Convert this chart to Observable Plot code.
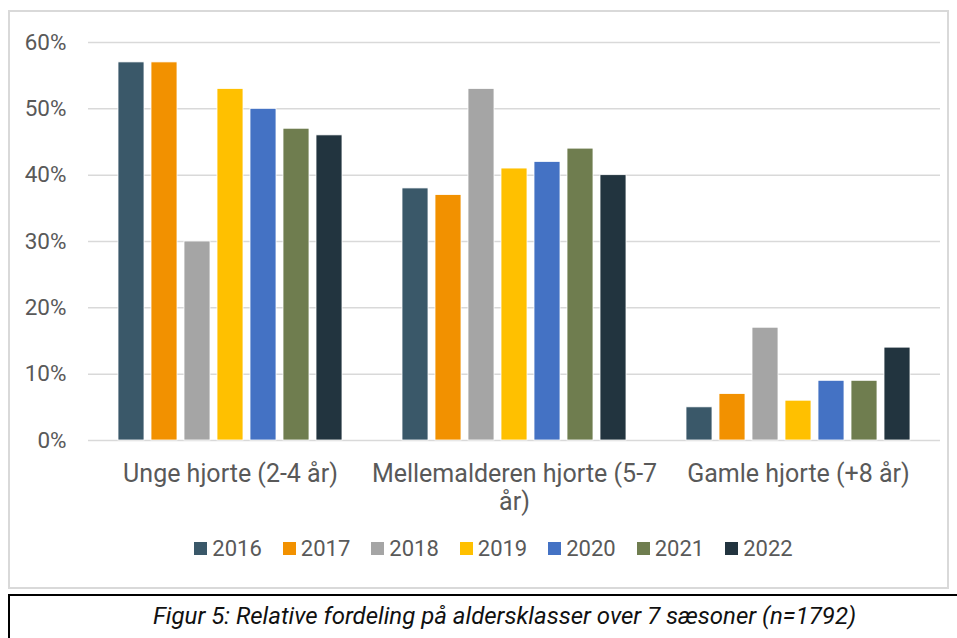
<!DOCTYPE html>
<html>
<head>
<meta charset="utf-8">
<script src="https://cdn.jsdelivr.net/npm/d3@7"></script>
<script src="https://cdn.jsdelivr.net/npm/@observablehq/plot@0.6"></script>
<style>
  html, body { margin: 0; padding: 0; background: #fff; }
  #page { position: relative; width: 957px; height: 638px; overflow: hidden; font-family: Roboto, "Open Sans", sans-serif; }
  #chartbox { position: absolute; left: 8px; top: 10px; width: 937px; height: 575px; border: 2px solid #d9d9d9; }
  #plot { position: absolute; left: 0; top: 0; }
  #legend { position: absolute; left: 0; top: 524px; width: 937px; box-sizing: border-box; padding-left: 30px; display: flex; justify-content: center; gap: 21px; color: #595959; font-size: 22px; }
  .item { display: flex; align-items: center; gap: 5px; }
  .sw { width: 13px; height: 13px; display: inline-block; }
  #caption { position: absolute; left: 8px; top: 594px; width: 980px; height: 60px; border: 2px solid #000; box-sizing: border-box; }
  #caption span { position: absolute; left: 0; width: 989px; top: 6px; text-align: center; font-style: italic; font-size: 24px; color: #111; }
</style>
</head>
<body>
<div id="page">
  <div id="chartbox">
    <div id="plot"></div>
    <div id="legend"></div>
  </div>
  <div id="caption"><span>Figur 5: Relative fordeling på aldersklasser over 7 sæsoner (n=1792)</span></div>
</div>
<script>
const categories = ["Unge hjorte (2-4 år)", "Mellemalderen hjorte (5-7 år)", "Gamle hjorte (+8 år)"];
const categoryLabels = ["Unge hjorte (2-4 år)", "Mellemalderen hjorte (5-7\når)", "Gamle hjorte (+8 år)"];
const years = ["2016", "2017", "2018", "2019", "2020", "2021", "2022"];
const v2016 = [57, 38, 5];
const v2017 = [57, 37, 7];
const v2018 = [30, 53, 17];
const v2019 = [53, 41, 6];
const v2020 = [50, 42, 9];
const v2021 = [47, 44, 9];
const v2022 = [46, 40, 14];
const yTicks = [0, 10, 20, 30, 40, 50, 60];
const colors = ["#3a5869", "#f29100", "#a5a5a5", "#ffc000", "#4472c4", "#6f7d4f", "#22343f"];

const series = [v2016, v2017, v2018, v2019, v2020, v2021, v2022];
const data = [];
categories.forEach((c, i) => years.forEach((y, j) => data.push({cat: c, year: y, value: series[j][i]})));

const chart = Plot.plot({
  width: 937,
  height: 500,
  marginLeft: 78,
  marginRight: 7,
  marginTop: 30,
  marginBottom: 72,
  style: {fontFamily: "Roboto, 'Open Sans', sans-serif", color: "#595959", background: "transparent", overflow: "visible"},
  fx: {domain: categories, padding: 0, label: null},
  x: {domain: years, paddingInner: 0.21, paddingOuter: 0.855, axis: null},
  y: {domain: [0, 60], label: null},
  color: {domain: years, range: colors},
  marks: [
    Plot.gridY(yTicks, {stroke: "#d9d9d9", strokeOpacity: 1, strokeWidth: 1.5}),
    Plot.axisY(yTicks, {tickFormat: d => d + "%", tickSize: 0, tickPadding: 22, fontSize: 22.5, fill: "#595959", label: null}),
    Plot.axisFx({anchor: "bottom", tickSize: 0, tickPadding: 22, fontSize: 25, fill: "#595959", lineHeight: 1.12, tickFormat: d => categoryLabels[categories.indexOf(d)], label: null}),
    Plot.barY(data, {fx: "cat", x: "year", y: "value", fill: "year", stroke: "#fff", strokeWidth: 0.8})
  ]
});
document.getElementById("plot").appendChild(chart);

const legend = document.getElementById("legend");
years.forEach((y, i) => {
  const it = document.createElement("div");
  it.className = "item";
  it.innerHTML = `<span class="sw" style="background:${colors[i]}"></span><span>${y}</span>`;
  legend.appendChild(it);
});
</script>
</body>
</html>
